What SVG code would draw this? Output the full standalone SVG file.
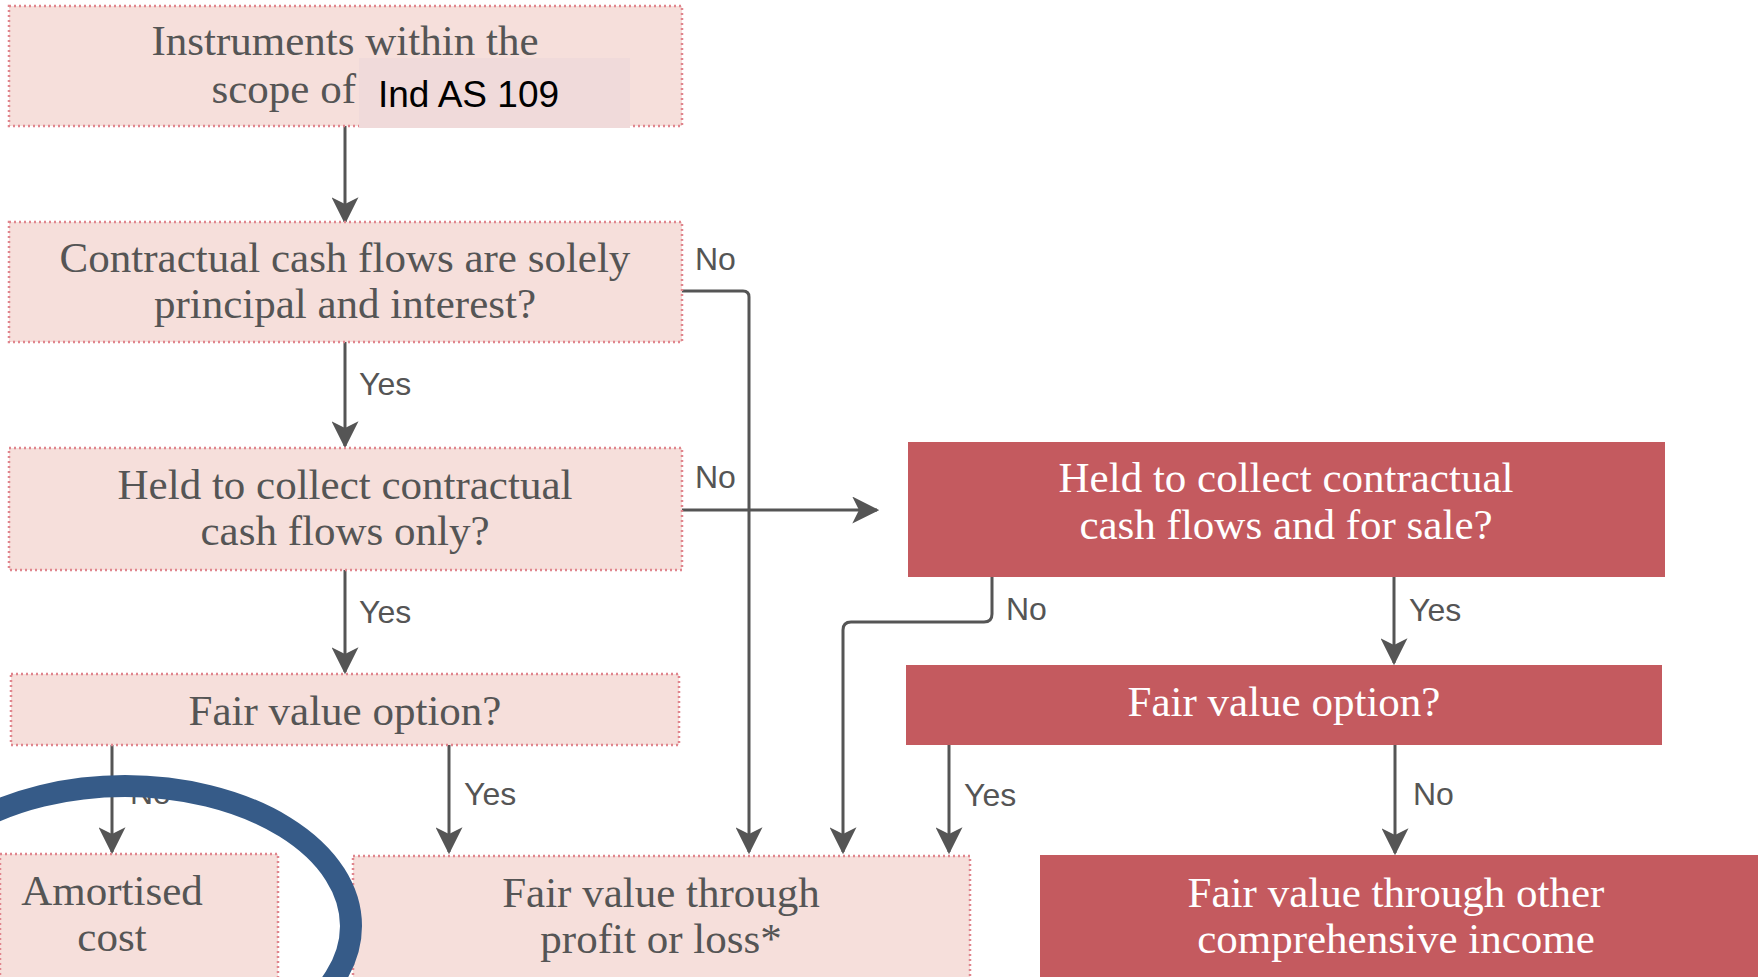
<svg xmlns="http://www.w3.org/2000/svg" width="1758" height="977" viewBox="0 0 1758 977">
<defs>
<marker id="ah" viewBox="0 0 12 12" refX="11" refY="6" markerWidth="9" markerHeight="9" markerUnits="strokeWidth" orient="auto">
<path d="M0,0 L12,6 L0,12 L3,6 z" fill="#555"/>
</marker>
<style>
.pb{fill:#f6dfdb;stroke:#e0858d;stroke-width:2.5;stroke-dasharray:2 3}
.rb{fill:#c45a5f}
.st{font-family:"Liberation Serif",serif;font-size:43px;fill:#555555;text-anchor:middle}
.wt{font-family:"Liberation Serif",serif;font-size:43px;fill:#ffffff;text-anchor:middle}
.lb{font-family:"Liberation Sans",sans-serif;font-size:32px;fill:#555}
.cn{fill:none;stroke:#555;stroke-width:3}
</style>
</defs>
<rect width="1758" height="977" fill="#ffffff"/>
<g id="connectors">
<path class="cn" d="M345,126 V222" marker-end="url(#ah)"/>
<path class="cn" d="M345,342 V446" marker-end="url(#ah)"/>
<path class="cn" d="M345,570 V672" marker-end="url(#ah)"/>
<path class="cn" d="M682,291 H743 Q749,291 749,297 V852" marker-end="url(#ah)"/>
<path class="cn" d="M682,510 H877" marker-end="url(#ah)"/>
<path class="cn" d="M112,745 V852" marker-end="url(#ah)"/>
<path class="cn" d="M449,745 V852" marker-end="url(#ah)"/>
<path class="cn" d="M992,577 V614 Q992,622 984,622 H851 Q843,622 843,630 V852" marker-end="url(#ah)"/>
<path class="cn" d="M1394,577 V663" marker-end="url(#ah)"/>
<path class="cn" d="M949,745 V852" marker-end="url(#ah)"/>
<path class="cn" d="M1395,745 V853" marker-end="url(#ah)"/>
<text class="lb" x="695" y="270">No</text>
<text class="lb" x="359" y="395">Yes</text>
<text class="lb" x="695" y="488">No</text>
<text class="lb" x="359" y="623">Yes</text>
<text class="lb" x="130" y="804">No</text>
<text class="lb" x="464" y="805">Yes</text>
<text class="lb" x="1006" y="620">No</text>
<text class="lb" x="1409" y="621">Yes</text>
<text class="lb" x="964" y="806">Yes</text>
<text class="lb" x="1413" y="805">No</text>
</g>
<g id="n1">
<rect class="pb" x="9" y="6" width="673" height="120"/>
<text class="st" x="345" y="55">Instruments within the</text>
<text class="st" x="356" y="103" style="text-anchor:end">scope of</text>
<rect x="359" y="58" width="271" height="70" fill="#f0dada"/>
<text x="378" y="107" style="font-family:'Liberation Sans',sans-serif;font-size:37px;fill:#000">Ind AS 109</text>
</g>
<g id="n2">
<rect class="pb" x="9" y="222" width="673" height="120"/>
<text class="st" x="345" y="272">Contractual cash flows are solely</text>
<text class="st" x="345" y="318">principal and interest?</text>
</g>
<g id="n3">
<rect class="pb" x="9" y="448" width="673" height="122"/>
<text class="st" x="345" y="499">Held to collect contractual</text>
<text class="st" x="345" y="545">cash flows only?</text>
</g>
<g id="n4">
<rect class="pb" x="11" y="674" width="668" height="71"/>
<text class="st" x="345" y="725">Fair value option?</text>
</g>
<g id="n5">
<rect class="pb" x="0" y="854" width="278" height="130"/>
<text class="st" x="112" y="905">Amortised</text>
<text class="st" x="112" y="951">cost</text>
</g>
<g id="n6">
<rect class="pb" x="353" y="856" width="617" height="130"/>
<text class="st" x="661" y="907">Fair value through</text>
<text class="st" x="661" y="953">profit or loss*</text>
</g>
<g id="n7">
<rect class="rb" x="908" y="442" width="757" height="135"/>
<text class="wt" x="1286" y="492">Held to collect contractual</text>
<text class="wt" x="1286" y="539">cash flows and for sale?</text>
</g>
<g id="n8">
<rect class="rb" x="906" y="665" width="756" height="80"/>
<text class="wt" x="1284" y="716">Fair value option?</text>
</g>
<g id="n9">
<rect class="rb" x="1040" y="855" width="718" height="130"/>
<text class="wt" x="1396" y="907">Fair value through other</text>
<text class="wt" x="1396" y="953">comprehensive income</text>
</g>
<ellipse cx="125" cy="926" rx="226" ry="140" fill="none" stroke="#365b88" stroke-width="22"/>
</svg>
